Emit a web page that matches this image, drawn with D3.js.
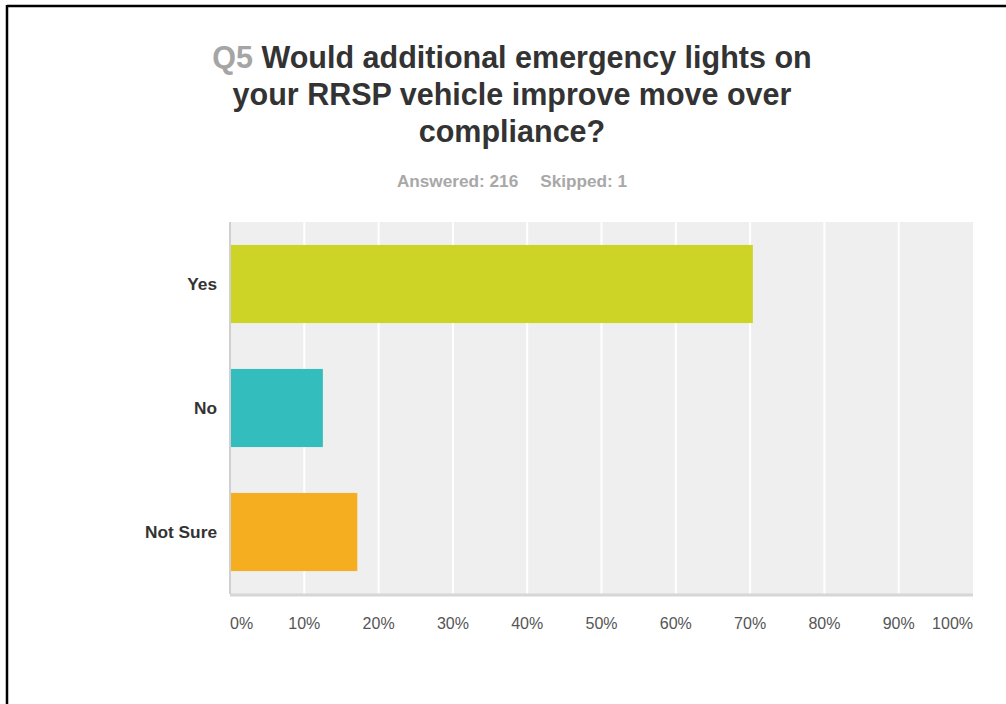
<!DOCTYPE html>
<html>
<head>
<meta charset="utf-8">
<script src="https://cdnjs.cloudflare.com/ajax/libs/d3/7.8.5/d3.min.js"></script>
<style>
  body { margin: 0; background: #fff; }
  svg { display: block; font-family: "Liberation Sans", Arial, sans-serif; }
</style>
</head>
<body>
<svg id="chart" width="1006" height="704"></svg>
<script>
// data
var categories = ["Yes", "No", "Not Sure"];
var percents = [70.37, 12.50, 17.13];
var colors = ["#cdd425", "#33bdbd", "#f6ae21"];
var tickValues = [0, 10, 20, 30, 40, 50, 60, 70, 80, 90, 100];
var titleLines = ["Would additional emergency lights on", "your RRSP vehicle improve move over", "compliance?"];
var answered = 216, skipped = 1;

var svg = d3.select("#chart");

// frame
svg.append("line").attr("x1", 7).attr("x2", 1006).attr("y1", 6).attr("y2", 6)
  .attr("stroke", "#000").attr("stroke-width", 2.5);
svg.append("line").attr("x1", 7).attr("x2", 7).attr("y1", 5).attr("y2", 704)
  .attr("stroke", "#000").attr("stroke-width", 2.5);

// title
var title = svg.append("g").attr("font-weight", "bold").attr("font-size", 30.5)
  .attr("text-anchor", "middle").attr("fill", "#333");
titleLines.forEach(function(t, i) {
  var tx = title.append("text").attr("x", 512).attr("y", 68 + i * 37);
  if (i === 0) {
    tx.append("tspan").attr("fill", "#a5a5a5").text("Q5 ");
  }
  tx.append("tspan").text(t);
});

var sub = svg.append("text").attr("x", 512).attr("y", 187)
  .attr("text-anchor", "middle").attr("font-weight", "bold").attr("font-size", 17.2)
  .attr("fill", "#a8a8a8");
sub.append("tspan").text("Answered: " + answered);
sub.append("tspan").attr("dx", 22).text("Skipped: " + skipped);

// plot
var pLeft = 230, pRight = 973, pTop = 222, pBottom = 594;

var x = d3.scaleLinear().domain([0, 100]).range([pLeft, pRight]);
var y = d3.scaleBand().domain(categories).range([pTop, pBottom])
  .paddingInner(0.37).paddingOuter(0.185);

svg.append("rect").attr("x", pLeft).attr("y", pTop)
  .attr("width", pRight - pLeft).attr("height", pBottom - pTop).attr("fill", "#efefef");

svg.append("g").selectAll("line").data(tickValues.slice(1, -1)).enter().append("line")
  .attr("x1", function(d) { return x(d); }).attr("x2", function(d) { return x(d); })
  .attr("y1", pTop).attr("y2", pBottom)
  .attr("stroke", "#fff").attr("stroke-width", 2);

svg.append("g").selectAll("rect").data(categories).enter().append("rect")
  .attr("x", x(0))
  .attr("y", function(d) { return y(d); })
  .attr("width", function(d, i) { return x(percents[i]) - x(0); })
  .attr("height", y.bandwidth())
  .attr("fill", function(d, i) { return colors[i]; });

// axis lines
svg.append("line").attr("x1", pLeft).attr("x2", pRight).attr("y1", pBottom + 1).attr("y2", pBottom + 1)
  .attr("stroke", "#d6d6d6").attr("stroke-width", 3);
svg.append("line").attr("x1", pLeft).attr("x2", pLeft).attr("y1", pTop).attr("y2", pBottom)
  .attr("stroke", "#d0d0d0").attr("stroke-width", 2);

// category labels
svg.append("g").selectAll("text").data(categories).enter().append("text")
  .attr("x", 217)
  .attr("y", function(d) { return y(d) + y.bandwidth() / 2 + 6; })
  .attr("text-anchor", "end").attr("font-weight", "bold").attr("font-size", 17.3)
  .attr("fill", "#333")
  .text(function(d) { return d; });

// x tick labels
svg.append("g").selectAll("text").data(tickValues).enter().append("text")
  .attr("x", function(d) { return x(d); })
  .attr("y", 629)
  .attr("text-anchor", function(d) { return d === 0 ? "start" : (d === 100 ? "end" : "middle"); })
  .attr("font-size", 16).attr("fill", "#555")
  .text(function(d) { return d + "%"; });
</script>
</body>
</html>
